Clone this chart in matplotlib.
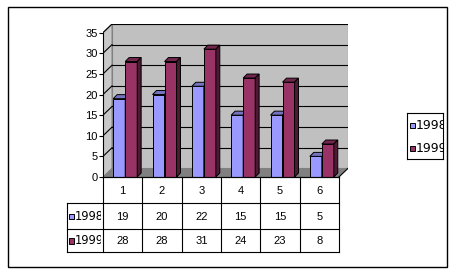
import matplotlib
matplotlib.use("Agg")
import matplotlib.pyplot as plt
from matplotlib.patches import Polygon, Rectangle

# données
categories = ["1", "2", "3", "4", "5", "6"]
series_names = ["1998", "1999"]
values_1998 = [19, 20, 22, 15, 15, 5]
values_1999 = [28, 28, 31, 24, 23, 8]
yticks = [0, 5, 10, 15, 20, 25, 30, 35]

front_colors = ["#9999FF", "#993366"]
top_colors = ["#7373C0", "#73264D"]
side_colors = ["#4D4D80", "#4D1A33"]

W, H = 452, 275
fig = plt.figure(figsize=(W / 100, H / 100), dpi=100)
fig.patch.set_facecolor("white")


def px_axes(x0, y0, x1, y1):
    # axes placé en pixels (origine en haut à gauche)
    return fig.add_axes([x0 / W, 1 - y1 / H, (x1 - x0) / W, (y1 - y0) / H])


# cadre extérieur
frame = px_axes(0, 0, W, H)
frame.set_xlim(0, W)
frame.set_ylim(H, 0)
frame.axis("off")
frame.add_patch(Rectangle((8, 7), 439, 260, fill=False, ec="black", lw=1.0))

# zone du graphique 3D
DX, DY = 0.23, 2.1       # profondeur des murs
BX, BY = 0.10, 0.97      # profondeur des barres
ymax = 35
n = len(categories)
ax = px_axes(103, 24, 348, 177)
ax.set_xlim(0.5, n + 0.5 + DX)
ax.set_ylim(0, ymax + DY)
ax.patch.set_visible(False)

# mur du fond, mur gauche, sol
ax.add_patch(Polygon([(0.5 + DX, DY), (n + 0.5 + DX, DY), (n + 0.5 + DX, ymax + DY),
                      (0.5 + DX, ymax + DY)], closed=True, fc="#C0C0C0", ec="#808080",
                     lw=0.8, zorder=1))
ax.add_patch(Polygon([(0.5, 0), (0.5 + DX, DY), (0.5 + DX, ymax + DY), (0.5, ymax)],
                     closed=True, fc="#C8C8C8", ec="#808080", lw=0.8, zorder=1))
ax.add_patch(Polygon([(0.5, 0), (n + 0.5, 0), (n + 0.5 + DX, DY), (0.5 + DX, DY)],
                     closed=True, fc="#808080", ec="none", zorder=1))

# quadrillage
for v in yticks[1:]:
    ax.plot([0.5 + DX, n + 0.5 + DX], [v + DY, v + DY], color="black", lw=0.8, zorder=2)
    ax.plot([0.5, 0.5 + DX], [v, v + DY], color="black", lw=0.8, zorder=2)
ax.plot([n + 0.5, n + 0.5 + DX], [0, DY], color="black", lw=0.8, zorder=2)

# barres en 3D
bw = 0.305
all_values = [values_1998, values_1999]
for i in range(n):
    for j, vals in enumerate(all_values):
        x0 = i + 1 - 0.24 + j * bw
        v = vals[i]
        ax.bar(x0, v, width=bw, align="edge", color=front_colors[j], ec="black",
               lw=0.7, zorder=5 + j)
        ax.add_patch(Polygon([(x0, v), (x0 + bw, v), (x0 + bw + BX, v + BY), (x0 + BX, v + BY)],
                             closed=True, fc=top_colors[j], ec="black", lw=0.7, zorder=5 + j))
        ax.add_patch(Polygon([(x0 + bw, 0), (x0 + bw + BX, BY), (x0 + bw + BX, v + BY), (x0 + bw, v)],
                             closed=True, fc=side_colors[j], ec="black", lw=0.7, zorder=5 + j))

# axes
for s in ["top", "right"]:
    ax.spines[s].set_visible(False)
ax.spines["left"].set_bounds(0, ymax)
ax.spines["bottom"].set_bounds(0.5, n + 0.5)
ax.spines["left"].set_linewidth(0.8)
ax.spines["bottom"].set_linewidth(0.8)
ax.spines["left"].set_zorder(10)
ax.spines["bottom"].set_zorder(10)
ax.set_yticks(yticks)
ax.set_yticklabels([str(t) for t in yticks], fontsize=8, family="Liberation Sans")
ax.tick_params(axis="y", length=3, width=0.8, pad=1)
ax.set_xticks([])

# tableau de données
tax = px_axes(103, 177, 348, 252)
tax.set_xlim(0.5, n + 0.5 + DX)
tax.set_ylim(75, 0)
tax.axis("off")
rows = [0, 26, 52, 75]
for k in range(n + 1):
    tax.plot([0.5 + k, 0.5 + k], [rows[0], rows[3]], color="black", lw=0.8, clip_on=False)
tax.plot([0.5, n + 0.5], [rows[0], rows[0]], color="black", lw=0.8, clip_on=False)
left = 0.5 - 36 / 39.33
for r in rows[1:]:
    tax.plot([left, n + 0.5], [r, r], color="black", lw=0.8, clip_on=False)
tax.plot([left, left], [rows[1], rows[3]], color="black", lw=0.8, clip_on=False)

for i, c in enumerate(categories):
    tax.text(i + 1, 13.5, c, ha="center", va="center", fontsize=8, family="Liberation Sans")
    for j, vals in enumerate(all_values):
        tax.text(i + 1, 39.5 + j * 24.5, str(vals[i]), ha="center", va="center", fontsize=8,
                 family="Liberation Sans")

# étiquettes des lignes (coupées par la bordure)
lax = px_axes(67, 203, 101, 252)
lax.set_xlim(0, 34)
lax.set_ylim(49, 0)
lax.axis("off")
for j, name in enumerate(series_names):
    yc = 13 + j * 24.5
    lax.add_patch(Rectangle((2, yc - 2.5), 4.5, 5.5, fc=front_colors[j], ec="black", lw=0.7))
    lax.text(7.5, yc + 0.5, name, ha="left", va="center", fontsize=8.3, family="DejaVu Sans",
             clip_on=True)

# légende
lg = px_axes(407, 113, 443, 159)
lg.set_xlim(0, 36)
lg.set_ylim(46, 0)
lg.set_xticks([])
lg.set_yticks([])
for s in lg.spines.values():
    s.set_linewidth(0.8)
for j, name in enumerate(series_names):
    yc = 12 + j * 23
    lg.add_patch(Rectangle((3.5, yc - 2.5), 4.5, 5.5, fc=front_colors[j], ec="black", lw=0.7))
    lg.text(9, yc + 0.5, name, ha="left", va="center", fontsize=9, family="DejaVu Sans",
            clip_on=True)

fig.savefig("out.png", dpi=100)
